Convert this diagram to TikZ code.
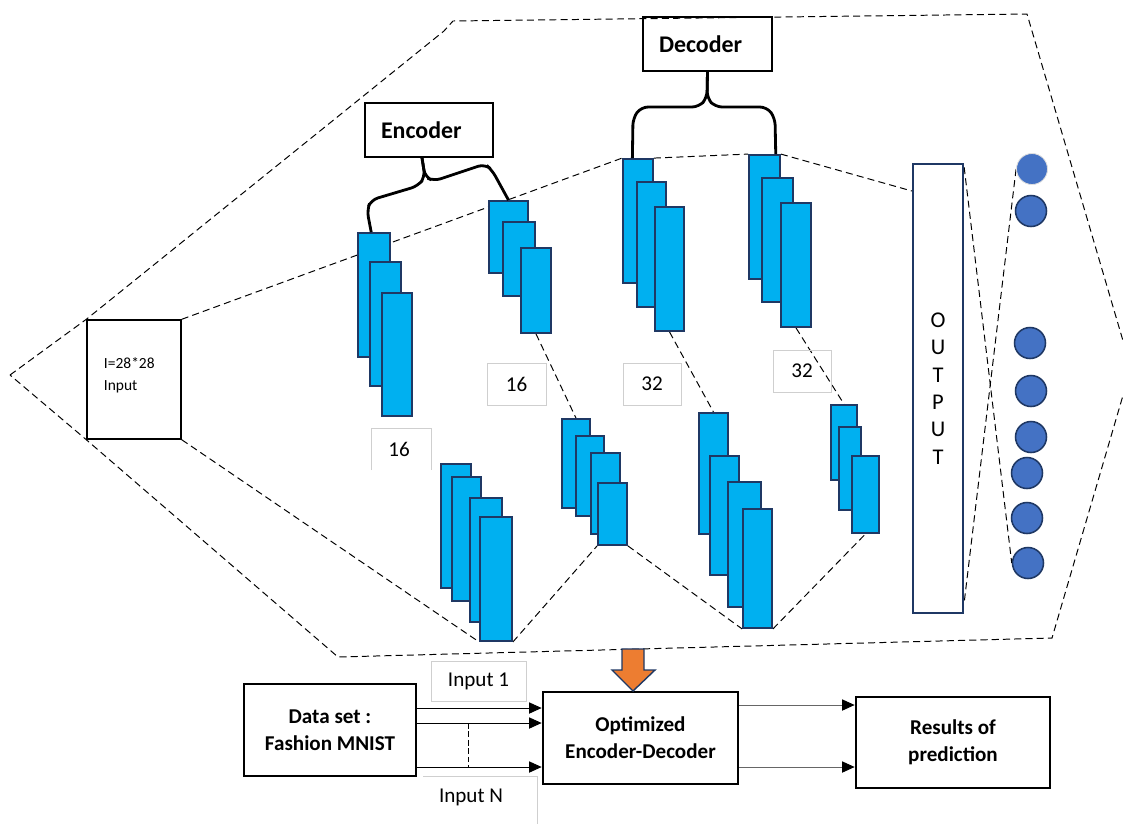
\documentclass[tikz,border=0pt]{standalone}
\usepackage{fontspec}
\setmainfont{Carlito}
\usetikzlibrary{arrows.meta}
\definecolor{fmapblue}{HTML}{00B0F0}
\definecolor{navy}{HTML}{1F3864}
\definecolor{neuronblue}{HTML}{4472C4}
\definecolor{arroworange}{HTML}{ED7D31}
\definecolor{lblgray}{HTML}{CFCFCF}
\newlength{\px}
\setlength{\px}{0.025cm}
% feature map rectangle given by its corners
\newcommand{\fmap}[5]{\node[fmap, minimum width={(#4-#2)*\px}, minimum height={(#5-#3)*\px}] (#1) at ({(#2+#4)/2},{(#3+#5)/2}) {};}
\pgfdeclarelayer{bg}
\pgfsetlayers{bg,main}
\tikzset{
  fmap/.style={draw=navy, fill=fmapblue, line width=1.3pt, rectangle, inner sep=0pt},
  neuron/.style={draw=navy, fill=neuronblue, line width=1.1pt, circle, inner sep=0pt, minimum size=31*\px},
  plainbox/.style={draw=black, line width=1pt, rectangle, inner sep=0pt},
  titlebox/.style={plainbox, align=left, font=\fontsize{17}{20}\selectfont\bfseries},
  flowbox/.style={draw=black, line width=1.9pt, rectangle, inner sep=0pt, align=center, font=\fontsize{15}{19.2}\selectfont\bfseries},
  lbl/.style={draw=lblgray, line width=0.6pt, rectangle, inner sep=0pt, font=\fontsize{15}{18}\selectfont},
  guide/.style={dash pattern=on 5pt off 3pt, line width=0.7pt},
  bracepath/.style={line width=2pt, rounded corners=5pt},
  feed/.style={line width=0.7pt, -{Triangle[length=9pt,width=8pt,color=black]}},
}

\begin{document}
\begin{tikzpicture}[x=0.025cm, y=-0.025cm]
    \useasboundingbox (0,0) rectangle (1123,824);

    % Input image
    \node[plainbox, minimum width=94*\px, minimum height=119*\px] (in) at (134,379.5) {};
    \node[anchor=west, align=left, font=\fontsize{11}{16}\selectfont] (intxt) at (99,375) {I=28*28\\Input};

    % Encoder / decoder titles
    \node[titlebox, minimum width=128*\px, minimum height=54*\px, text width=96*\px] (enc) at (429,130) {Encoder};
    \node[titlebox, minimum width=129*\px, minimum height=54*\px, text width=97*\px] (dec) at (707.5,44) {Decoder};

    % Upper feature maps
    \fmap{enc1a}{358}{233}{390}{357}
    \fmap{enc1b}{370}{262}{401}{386}
    \fmap{enc1c}{382}{293}{412}{416}
    \fmap{enc2a}{489}{201}{528}{273}
    \fmap{enc2b}{503}{222}{535}{296}
    \fmap{enc2c}{521}{248}{551}{333}
    \fmap{dec1a}{623}{159}{653}{283}
    \fmap{dec1b}{637}{182}{666}{307}
    \fmap{dec1c}{655}{207}{684}{331}
    \fmap{dec2a}{749}{155}{780}{279}
    \fmap{dec2b}{762}{178}{793}{302}
    \fmap{dec2c}{781}{203}{811}{327}

    % Lower feature maps
    \fmap{lowAa}{441}{464}{471}{588}
    \fmap{lowAb}{452}{477}{481}{601}
    \fmap{lowAc}{470}{498}{502}{622}
    \fmap{lowAd}{480}{517}{512}{641}
    \fmap{lowBa}{562}{419}{590}{508}
    \fmap{lowBb}{576}{436}{604}{516}
    \fmap{lowBc}{591}{453}{620}{534}
    \fmap{lowBd}{598}{483}{627}{545}
    \fmap{lowCa}{699}{413}{728}{534}
    \fmap{lowCb}{710}{456}{739}{575}
    \fmap{lowCc}{728}{482}{761}{607}
    \fmap{lowCd}{743}{509}{772}{628}
    \fmap{lowDa}{831}{405}{857}{480}
    \fmap{lowDb}{839}{427}{861}{510}
    \fmap{lowDc}{852}{456}{879}{533}

    % Filter counts
    \node[lbl, minimum width=59*\px, minimum height=42*\px] (n16a) at (516.5,384) {16};
    \node[lbl, minimum width=58*\px, minimum height=42*\px] (n32a) at (652,384) {32};
    \node[lbl, minimum width=58*\px, minimum height=42*\px] (n32b) at (802,371) {32};
    \node[font=\fontsize{15}{18}\selectfont] (n16b) at (399,449) {16};
    \draw[lblgray, line width=0.6pt] (371,470) -- (371,428) -- (431,428) -- (431,470);

    % Output layer
    \node[draw=navy, line width=1.6pt, inner sep=0pt, minimum width=50*\px, minimum height=449*\px,
          align=center, font=\fontsize{16}{19.4}\selectfont] (out) at (938,388.5) {O\\U\\T\\P\\U\\T};
    \node[neuron, draw=gray!25, line width=0.6pt] (c1) at (1032,169) {};
    \foreach \n/\x/\y in {2/1031/211, 3/1030/343, 4/1031/391, 5/1031/437, 6/1027/473, 7/1027/518, 8/1028/563}
        \node[neuron] (c\n) at (\x,\y) {};

    % Dashed guides (behind everything)
    \begin{pgfonlayer}{bg}
        \draw[guide] (10,375) -- (in.north west) -- (444,31) -- (453,21) -- (1027,14) -- (1131,368)
            -- (1052,638) -- (338,657) -- (in.south west) -- cycle;
        \draw[guide] (in.north east) -- (dec1a.north west);
        \draw[guide] (dec1a.north east) -- (dec2a.north west);
        \draw[guide] (dec2a.north east) -- ([yshift=-20pt]out.north west);
        \draw[guide] (in.south east) -- (lowAd.south west);
        \draw[guide] (lowAd.south east) -- (lowBd.south west);
        \draw[guide] (lowBd.south east) -- (lowCd.south west);
        \draw[guide] (lowCd.south east) -- (lowDc.south);
        \draw[guide] (enc2c.south) -- (lowBa.north);
        \draw[guide] (dec1c.south) -- (lowCa.north);
        \draw[guide] (dec2c.south) -- (lowDa.north);
        \draw[guide] ([yshift=-3pt]out.north east) -- (c8.west);
        \draw[guide] (c1.west) -- ([yshift=8pt]out.south east);
    \end{pgfonlayer}

    % Braces
    \draw[bracepath] ([xshift=-5pt]enc.south) -- (425,177) -- (418,186) -- (371,200) -- (367,210) -- ([xshift=-2pt]enc1a.north);
    \draw[bracepath] ([xshift=-5pt]enc.south) -- (425,177) -- (434,181) -- (485,164) -- (492,170) -- (enc2a.north);
    \draw[bracepath] (dec.south) -- (707,98) -- (699,107) -- (641,107) -- (633,118) -- ([xshift=-4pt]dec1a.north);
    \draw[bracepath] (dec.south) -- (707,98) -- (715,107) -- (767,107) -- (775,118) -- ([xshift=8pt]dec2a.north);

    % Pipeline
    \node[flowbox, minimum width=172*\px, minimum height=92*\px] (ds) at (330,730) {Data set :\\Fashion MNIST};
    \node[flowbox, minimum width=195*\px, minimum height=92*\px] (opt) at (640.5,738) {Optimized\\Encoder-Decoder};
    \node[flowbox, minimum width=194*\px, minimum height=91*\px] (res) at (953,742.5) {Results of\\prediction};
    \node[lbl, minimum width=95*\px, minimum height=40*\px] (in1) at (478.5,681) {Input 1};
    \node[font=\fontsize{15}{18}\selectfont] (inN) at (471,797) {Input N};
    \draw[lblgray, line width=0.6pt] (423,776) -- (537,776) -- (537,824);

    \draw[feed] (ds.east |- 0,708) -- (opt.west |- 0,708);
    \draw[feed] (ds.east |- 0,723) -- (opt.west |- 0,723);
    \draw[feed] (ds.east |- 0,767) -- (opt.west |- 0,767);
    \draw[dash pattern=on 4pt off 2pt, line width=0.6pt] (468,723) -- (468,767);
    \draw[feed, draw=black!60] (opt.east |- 0,705) -- (res.west |- 0,705);
    \draw[feed, draw=black!60] (opt.east |- 0,767) -- (res.west |- 0,767);

    % Orange arrow into the optimized model
    \draw[fill=arroworange, draw=navy, line width=1pt] (622,649) -- (644,649) -- (644,670) -- (655,670)
        -- (633,691) -- (612,670) -- (622,670) -- cycle;
\end{tikzpicture}
\end{document}
